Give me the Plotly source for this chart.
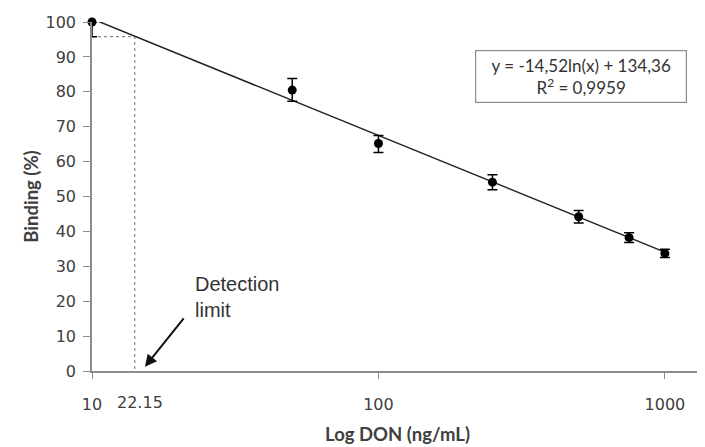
import numpy as np
import plotly.graph_objects as go

# Data
conc = [10, 50, 100, 250, 500, 750, 1000]
binding = [100, 80.5, 65.2, 54.1, 44.2, 38.2, 33.7]
err_plus = [0, 3.3, 2.3, 2.1, 1.8, 1.4, 1.2]
err_minus = [4.2, 3.2, 2.6, 2.2, 1.8, 1.4, 1.2]

fit_slope = -14.52
fit_intercept = 134.36
fit_x = [10, 1000]
fit_y = [fit_slope * np.log(v) + fit_intercept for v in fit_x]

detect_x = 14.1
detect_y = 95.8
detect_label = "22.15"

x_ticks = [10, 100, 1000]
x_ticktext = ["10", "100", "1000"]
y_ticks = [0, 10, 20, 30, 40, 50, 60, 70, 80, 90, 100]

fig = go.Figure()

# detection limit dashed guides
fig.add_trace(go.Scatter(x=[10, detect_x, detect_x], y=[detect_y, detect_y, 0],
                         mode="lines", line=dict(color="#8a8a8a", width=1.2, dash="dot"),
                         hoverinfo="skip", showlegend=False))

# trend line
fig.add_trace(go.Scatter(x=fit_x, y=fit_y, mode="lines",
                         line=dict(color="#222222", width=1.5),
                         showlegend=False, cliponaxis=False))

# data points
fig.add_trace(go.Scatter(x=conc, y=binding, mode="markers",
                         marker=dict(color="black", size=9),
                         error_y=dict(type="data", symmetric=False, array=err_plus,
                                      arrayminus=err_minus, color="black",
                                      thickness=1.5, width=5),
                         showlegend=False, cliponaxis=False))

tick_font = dict(family="DejaVu Sans", size=16, color="#404040")
title_font = dict(family="Lato", size=18.5, color="#404040")

fig.update_layout(
    width=705, height=447,
    margin=dict(l=84, r=10, t=14, b=84),
    paper_bgcolor="white", plot_bgcolor="white",
    xaxis=dict(type="log", range=[1, 3.133], tickvals=x_ticks, ticktext=x_ticktext,
               automargin=False,
               showgrid=False, zeroline=False, showline=True, linecolor="#8c8c8c",
               linewidth=1.5, ticks="outside", ticklen=6, tickcolor="#8c8c8c",
               tickfont=tick_font, ticklabelstandoff=12,
               title=dict(text="<b>Log DON (ng/mL)</b>", standoff=15, font=title_font)),
    yaxis=dict(range=[0, 100], tickvals=y_ticks, showgrid=False, zeroline=False,
               automargin=False,
               showline=True, linecolor="#8c8c8c", linewidth=1.5, ticks="outside",
               ticklen=7, tickcolor="#8c8c8c", tickfont=tick_font, ticklabelstandoff=4,
               title=dict(text="<b>Binding (%)</b>", standoff=2, font=title_font)),
)

# 22.15 label
fig.add_annotation(x=np.log10(detect_x) + 0.02, y=0, yref="y", yshift=-31, text=detect_label,
                   showarrow=False, font=tick_font, xanchor="center", yanchor="middle")

# arrow
fig.add_annotation(x=np.log10(15.3), y=1.2, ax=40, ay=-50, text="", showarrow=True,
                   arrowhead=2, arrowsize=1.2, arrowwidth=2, arrowcolor="#111111")

# Detection limit text
fig.add_annotation(x=np.log10(22.5), y=21.2, text="Detection<br>limit", showarrow=False,
                   xanchor="left", yanchor="middle", align="left",
                   font=dict(family="Liberation Sans", size=20, color="#333333"))

# equation box
fig.add_annotation(xref="paper", yref="paper", x=0.627, y=0.845, xanchor="left", yanchor="middle",
                   text="y = -14,52ln(x) + 134,36<br>R<sup>2</sup> = 0,9959", showarrow=False,
                   align="center", bordercolor="#8c8c8c", borderwidth=1.2, borderpad=4,
                   bgcolor="white", width=202,
                   font=dict(family="Lato", size=17, color="#333333"))

fig.write_html("out.html")
